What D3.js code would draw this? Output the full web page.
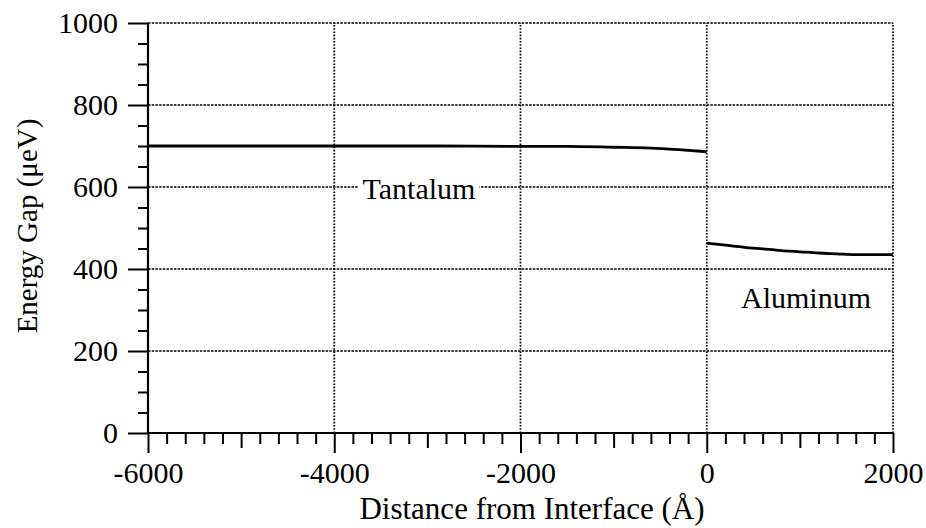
<!DOCTYPE html>
<html>
<head>
<meta charset="utf-8">
<script src="https://cdn.jsdelivr.net/npm/d3@7"></script>
<style>
  html, body { margin: 0; padding: 0; background: #fff; }
  svg { display: block; }
  text { font-family: "Liberation Serif", "Times New Roman", serif; fill: #000; }
</style>
</head>
<body>
<svg id="chart" width="926" height="528"></svg>
<script>
// Energy gap across a tantalum / aluminum interface
const tantalumX = [-6000, -5000, -4000, -3000, -2000, -1500, -1000, -600, -300, 0];
const tantalumGap = [700, 700, 700, 700, 699, 699, 697, 695, 691, 686];
const aluminumX = [0, 200, 400, 600, 800, 1000, 1200, 1400, 1600, 1800, 2000];
const aluminumGap = [463, 458, 453, 449, 445, 442, 439, 437, 435, 435, 435];

const xMajorTicks = [-6000, -4000, -2000, 0, 2000];
const yMajorTicks = [0, 200, 400, 600, 800, 1000];
const xGridValues = [-4000, -2000, 0, 2000];
const yGridValues = [200, 400, 600, 800, 1000];

const svg = d3.select("#chart");
const x = d3.scaleLinear().domain([-6000, 2000]).range([148, 893]);
const y = d3.scaleLinear().domain([0, 1000]).range([433, 23]);

// dotted grid
const grid = svg.append("g").attr("stroke", "#000").attr("fill", "none");
grid.selectAll("line.h").data(yGridValues).join("line")
  .attr("class", "h")
  .attr("x1", x(-6000)).attr("x2", x(2000))
  .attr("y1", d => y(d)).attr("y2", d => y(d))
  .attr("stroke-width", 1.3).attr("stroke-dasharray", "2.5,1.2");
grid.selectAll("line.v").data(xGridValues).join("line")
  .attr("class", "v")
  .attr("x1", d => x(d)).attr("x2", d => x(d))
  .attr("y1", y(0)).attr("y2", y(1000))
  .attr("stroke-width", 1.8).attr("stroke-dasharray", "1.6,1.6");

// curves
const line = d3.line().x(d => x(d[0])).y(d => y(d[1])).curve(d3.curveMonotoneX);
const curves = svg.append("g").attr("fill", "none").attr("stroke", "#000")
  .attr("stroke-width", 2.8).attr("stroke-linecap", "butt");
curves.append("path").attr("d", line(d3.zip(tantalumX, tantalumGap)));
curves.append("path").attr("d", line(d3.zip(aluminumX, aluminumGap)));

// axes
const fontSize = 30;
const plain = d => String(d);   // hyphen-minus for negative labels
function styleAxis(g) {
  g.select(".domain").remove();
  g.selectAll(".tick line").attr("stroke", "#000").attr("stroke-width", 2);
  g.selectAll(".tick text").attr("font-size", fontSize).attr("font-family", "Liberation Serif, serif").attr("fill", "#000");
}

const minorX = d3.range(-6000, 2001, 200).filter(v => v % 1000 !== 0);
const midX = d3.range(-5000, 2000, 2000);
svg.append("g").attr("transform", `translate(0,${y(0)})`)
  .call(d3.axisBottom(x).tickValues(minorX).tickSize(11).tickFormat(""))
  .call(styleAxis);
svg.append("g").attr("transform", `translate(0,${y(0)})`)
  .call(d3.axisBottom(x).tickValues(midX).tickSize(15).tickFormat(""))
  .call(styleAxis);
svg.append("g").attr("transform", `translate(0,${y(0)})`)
  .call(d3.axisBottom(x).tickValues(xMajorTicks).tickSize(20).tickPadding(9).tickFormat(plain))
  .call(styleAxis);

const minorY = d3.range(0, 1001, 50).filter(v => v % 200 !== 0);
svg.append("g").attr("transform", `translate(${x(-6000)},0)`)
  .call(d3.axisLeft(y).tickValues(minorY).tickSize(10).tickFormat(""))
  .call(styleAxis);
svg.append("g").attr("transform", `translate(${x(-6000)},0)`)
  .call(d3.axisLeft(y).tickValues(yMajorTicks).tickSize(20).tickPadding(10).tickFormat(plain))
  .call(styleAxis);

// axis lines
svg.append("line").attr("x1", x(-6000)).attr("x2", x(2000)).attr("y1", y(0)).attr("y2", y(0))
  .attr("stroke", "#000").attr("stroke-width", 2.2);
svg.append("line").attr("x1", x(-6000)).attr("x2", x(-6000)).attr("y1", y(0) + 1).attr("y2", y(1000))
  .attr("stroke", "#000").attr("stroke-width", 2.2);

// material labels
const ta = svg.append("g");
const taText = ta.append("text").attr("x", 419).attr("y", 199)
  .attr("text-anchor", "middle").attr("font-size", fontSize).text("Tantalum");
const bb = taText.node().getBBox();
ta.insert("rect", "text").attr("x", bb.x - 4).attr("y", bb.y + 3)
  .attr("width", bb.width + 8).attr("height", bb.height - 8).attr("fill", "#fff");

svg.append("text").attr("x", 806).attr("y", 308)
  .attr("text-anchor", "middle").attr("font-size", fontSize).text("Aluminum");

// axis titles
svg.append("text").attr("x", 532).attr("y", 519).attr("text-anchor", "middle")
  .attr("font-size", 31).text("Distance from Interface (Å)");
svg.append("text").attr("transform", "translate(37,226) rotate(-90)").attr("text-anchor", "middle")
  .attr("font-size", 29).text("Energy Gap (μeV)");
</script>
</body>
</html>
